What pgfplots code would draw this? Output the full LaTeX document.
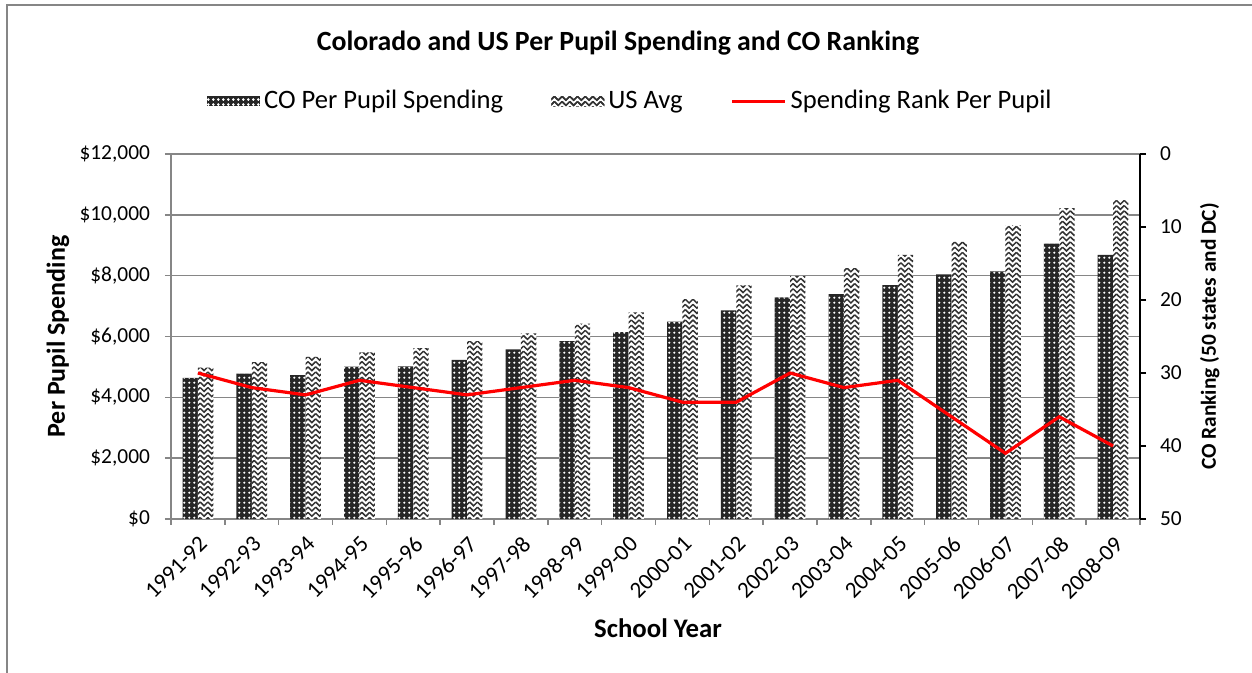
\documentclass[border=0pt]{standalone}
\usepackage{pgfplots}
\pgfplotsset{compat=1.18}
\usepackage{fontspec}
\setmainfont{Carlito}
\usetikzlibrary{patterns}
\definecolor{gridgray}{HTML}{868686}
\pgfdeclarepatternformonly{zigzag}{\pgfqpoint{-0.5pt}{-0.5pt}}{\pgfqpoint{4.35pt}{3.1pt}}{\pgfqpoint{3.85pt}{2.6pt}}{%
  \pgfsetlinewidth{0.75pt}%
  \pgfpathmoveto{\pgfqpoint{0pt}{2.3pt}}%
  \pgfpathlineto{\pgfqpoint{1.925pt}{0.4pt}}%
  \pgfpathlineto{\pgfqpoint{3.85pt}{2.3pt}}%
  \pgfusepath{stroke}}
\pgfdeclarepatternformonly{dotgrid}{\pgfqpoint{0pt}{0pt}}{\pgfqpoint{2.4pt}{2.4pt}}{\pgfqpoint{2.4pt}{2.4pt}}{%
  \pgfpathcircle{\pgfqpoint{1.2pt}{1.2pt}}{0.6pt}%
  \pgfusepath{fill}}
\pgfplotstableread{
x co us rank
0 4640 4980 30
1 4780 5160 32
2 4730 5330 33
3 5010 5480 31
4 5020 5620 32
5 5230 5850 33
6 5580 6100 32
7 5850 6420 31
8 6140 6790 32
9 6490 7230 34
10 6860 7680 34
11 7290 7990 30
12 7390 8250 32
13 7690 8680 31
14 8040 9110 36
15 8140 9650 41
16 9050 10220 36
17 8680 10480 40
}\datatable
\newcommand{\tickfont}{\fontsize{10.7}{12}\selectfont}
\begin{document}
\begin{tikzpicture}
\path[use as bounding box] (0,0) rectangle (626pt,336.5pt);
\draw[gridgray, line width=1pt] (3.5pt,0) -- (3.5pt,334pt) -- (626pt,334pt);
\node[font=\bfseries\fontsize{13.9}{16}\selectfont] at (309pt,315pt) {Colorado and US Per Pupil Spending and CO Ranking};
\begin{axis}[
  at={(85.5pt,77pt)}, anchor=south west, scale only axis,
  width=484.5pt, height=182.5pt,
  xmin=-0.5, xmax=17.5, ymin=0, ymax=12000,
  scaled y ticks=false,
  ybar=0pt, bar width=7.7pt,
  axis x line*=bottom, axis y line*=left,
  axis line style={gridgray, line width=0.8pt},
  xtick={0,...,17},
  xticklabels={1991-92,1992-93,1993-94,1994-95,1995-96,1996-97,1997-98,1998-99,1999-00,2000-01,2001-02,2002-03,2003-04,2004-05,2005-06,2006-07,2007-08,2008-09},
  minor xtick={-0.5,0.5,...,17.5},
  major x tick style={draw=none},
  minor x tick style={gridgray, line width=0.8pt},
  minor tick length=3pt, major tick length=3pt,
  tick align=outside,
  ytick={0,2000,...,12000},
  yticklabels={\$0,{\$2,000},{\$4,000},{\$6,000},{\$8,000},{\$10,000},{\$12,000}},
  y tick style={gridgray, line width=0.8pt},
  ymajorgrids, grid style={gridgray, line width=0.8pt},
  xticklabel style={rotate=45, anchor=north east, font=\fontsize{11.5}{12}\selectfont},
  yticklabel style={font=\tickfont, xshift=-4pt},
  ylabel={Per Pupil Spending}, xlabel={School Year},
  every axis y label/.style={at={(rel axis cs:-0.1166,0.5)}, rotate=90, anchor=center, font=\bfseries\fontsize{13}{15}\selectfont},
  every axis x label/.style={at={(rel axis cs:0.5026,-0.2986)}, anchor=center, font=\bfseries\fontsize{13.4}{15}\selectfont},
  legend columns=3,
  legend style={at={(rel axis cs:0.475,1.145)}, anchor=center, draw=none, fill=none, font=\fontsize{13.3}{15}\selectfont,
    /tikz/every even column/.append style={column sep=22pt}},
]
\addplot[draw=none, fill=black!85, postaction={pattern=dotgrid, pattern color=white},
  legend image code/.code={\fill[black!85] (0pt,-2.5pt) rectangle (26.5pt,2.5pt); \fill[pattern=dotgrid, pattern color=white] (0pt,-2.5pt) rectangle (26.5pt,2.5pt);}]
  table[x=x, y=co] {\datatable};
\addlegendentry{CO Per Pupil Spending}
\addplot[draw=none, fill=white, postaction={pattern=zigzag, pattern color=black!80},
  legend image code/.code={\fill[pattern=zigzag, pattern color=black!80] (0pt,-2.5pt) rectangle (26.5pt,2.5pt);}]
  table[x=x, y=us] {\datatable};
\addlegendentry{US Avg}
\addlegendimage{red, line width=1.5pt, legend image code/.code={\draw[red, line width=1.5pt] (0pt,0pt) -- (26.5pt,0pt);}}
\addlegendentry{Spending Rank Per Pupil}
\end{axis}
\begin{axis}[
  at={(85.5pt,77pt)}, anchor=south west, scale only axis,
  width=484.5pt, height=182.5pt,
  xmin=-0.5, xmax=17.5, ymin=0, ymax=50,
  y dir=reverse,
  hide x axis,
  axis y line*=right,
  y axis line style={black, line width=0.8pt},
  ytick={0,10,20,30,40,50},
  yticklabels={0,10,20,30,40,50},
  y tick style={black, line width=0.8pt},
  major tick length=3pt, tick align=outside,
  yticklabel style={font=\tickfont, xshift=3.5pt},
  ylabel={CO Ranking (50 states and DC)},
  every axis y label/.style={at={(rel axis cs:1.072,0.5)}, rotate=90, anchor=center, font=\bfseries\fontsize{10.7}{12}\selectfont},
]
\addplot[red, line width=1.6pt] table[x=x, y=rank] {\datatable};
\end{axis}
\end{tikzpicture}
\end{document}
